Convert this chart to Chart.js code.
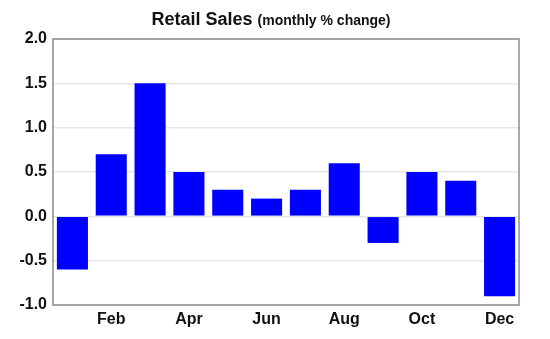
<!DOCTYPE html>
<html>
<head>
<meta charset="utf-8">
<script src="https://cdn.jsdelivr.net/npm/chart.js@4"></script>
<style>
  html, body { margin: 0; padding: 0; background: #fff; }
  #wrap { width: 550px; height: 339px; position: relative; }
</style>
</head>
<body>
<div id="wrap"><canvas id="salesChart"></canvas></div>
<script>
const months = ['Jan', 'Feb', 'Mar', 'Apr', 'May', 'Jun', 'Jul', 'Aug', 'Sep', 'Oct', 'Nov', 'Dec'];
const monthlyChange = [-0.6, 0.7, 1.5, 0.5, 0.3, 0.2, 0.3, 0.6, -0.3, 0.5, 0.4, -0.9];
const yTicks = [-1.0, -0.5, 0.0, 0.5, 1.0, 1.5, 2.0];
const titleMain = 'Retail Sales';
const titleSub = '(monthly % change)';

const fontFamily = '"Liberation Sans", Arial, sans-serif';

// title with two sizes + box around plot area
const extras = {
    id: 'extras',
    afterDraw(chart) {
        const ctx = chart.ctx;
        const area = chart.chartArea;
        ctx.save();
        ctx.strokeStyle = '#8c8c8c';
        ctx.lineWidth = 1.5;
        ctx.strokeRect(area.left, area.top, area.right - area.left, area.bottom - area.top);

        ctx.fillStyle = '#111';
        ctx.textBaseline = 'alphabetic';
        ctx.font = 'bold 18px ' + fontFamily;
        const w1 = ctx.measureText(titleMain + ' ').width;
        ctx.font = 'bold 14px ' + fontFamily;
        const w2 = ctx.measureText(titleSub).width;
        let x = 271 - (w1 + w2) / 2;
        ctx.font = 'bold 18px ' + fontFamily;
        ctx.fillText(titleMain + ' ', x, 25);
        ctx.font = 'bold 14px ' + fontFamily;
        ctx.fillText(titleSub, x + w1, 25);
        ctx.restore();
    }
};

const ctx = document.getElementById('salesChart').getContext('2d');
new Chart(ctx, {
    type: 'bar',
    data: {
        labels: months,
        datasets: [{
            label: 'Retail Sales',
            data: monthlyChange,
            backgroundColor: '#0000ff',
            borderWidth: 0,
            barPercentage: 0.8,
            categoryPercentage: 1.0
        }]
    },
    options: {
        responsive: true,
        maintainAspectRatio: false,
        animation: false,
        layout: { padding: { left: 0, right: 31, top: 39, bottom: 0 } },
        plugins: {
            legend: { display: false },
            title: { display: false },
            tooltip: { enabled: false }
        },
        scales: {
            x: {
                grid: { display: false, drawTicks: false },
                border: { display: false },
                ticks: {
                    autoSkip: false,
                    maxRotation: 0,
                    padding: 5,
                    color: '#111',
                    font: { family: fontFamily, size: 16, weight: 'bold' },
                    callback: (val, i) => (i % 2 === 1 ? months[i] : '')
                },
                afterFit(scale) { scale.height = 34; }
            },
            y: {
                min: -1.0,
                max: 2.0,
                grid: { color: '#e6e6e6', lineWidth: 1.5, drawTicks: false },
                border: { display: false },
                afterBuildTicks(scale) {
                    scale.ticks = yTicks.map(v => ({ value: v }));
                },
                ticks: {
                    padding: 6,
                    color: '#111',
                    font: { family: fontFamily, size: 16, weight: 'bold' },
                    callback: v => v.toFixed(1)
                },
                afterFit(scale) { scale.width = 53; }
            }
        }
    },
    plugins: [extras]
});
</script>
</body>
</html>
